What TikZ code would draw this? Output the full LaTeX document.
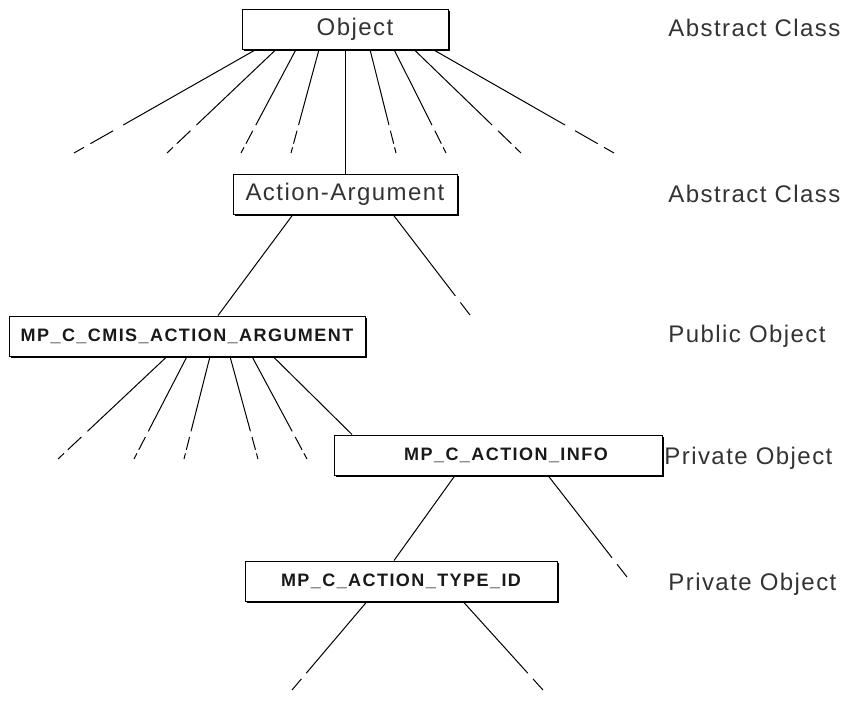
\documentclass[tikz,border=0pt]{standalone}
\usepackage{fontspec}
\newfontfamily\lblfont[LetterSpace=6]{Liberation Sans}
\newfontfamily\idfont[LetterSpace=8]{Liberation Sans}
\usetikzlibrary{calc, shadows}

\begin{document}
\begin{tikzpicture}[x=0.5pt, y=-0.5pt]
  \newcommand\boxheight{20pt}
  \newcommand\fanbottom{153}
  \newcommand\subfanbottom{459}
  \newcommand\kindcol{668}

  \tikzset{link/.style={line width=0.5pt}}
  \tikzset{classbox/.style={draw, line width=0.5pt, fill=white, minimum height=\boxheight, inner sep=0pt, drop shadow={shadow xshift=1.1pt, shadow yshift=-1.1pt, opacity=1, fill=black}}}
  \tikzset{namelbl/.style={font=\lblfont\fontsize{12}{14}\selectfont, text=black!80}}
  \tikzset{idlbl/.style={font=\idfont\bfseries\fontsize{9}{11}\selectfont, text=black!90}}
  \tikzset{kindlbl/.style={namelbl, anchor=west, inner sep=0pt}}

  % line that breaks up twice before its end
  \newcommand\fanlink[2]{
    \draw[link] (#1) -- ($(#1)!0.73!(#2)$);
    \draw[link] ($(#1)!0.785!(#2)$) -- ($(#1)!0.91!(#2)$);
    \draw[link] ($(#1)!0.945!(#2)$) -- (#2);
  }
  % line that breaks up once
  \newcommand\openlink[2]{
    \draw[link] (#1) -- ($(#1)!0.81!(#2)$);
    \draw[link] ($(#1)!0.875!(#2)$) -- (#2);
  }

  \useasboundingbox (0,0) rectangle (858,707);

  % classes
  \node[classbox, namelbl, minimum width=103pt] (obj) at (345,29) {\hskip10pt Object};
  \node[classbox, namelbl, minimum width=112pt] (aa) at (345,194) {Action-Argument};
  \node[classbox, idlbl, minimum width=178pt] (cmis) at (187,336) {MP\_C\_CMIS\_ACTION\_ARGUMENT};
  \node[classbox, idlbl, minimum width=164pt] (info) at (498,455) {\hskip8pt MP\_C\_ACTION\_INFO};
  \node[classbox, idlbl, minimum width=156pt] (typeid) at (401,581) {MP\_C\_ACTION\_TYPE\_ID};

  % kinds
  \node[kindlbl] (objkind) at (\kindcol,28) {Abstract Class};
  \node[kindlbl] (aakind) at (\kindcol,194) {Abstract Class};
  \node[kindlbl] (cmiskind) at (\kindcol,336) {Public Object};
  \node[kindlbl] (infokind) at (\kindcol-4,458) {Private Object};
  \node[kindlbl] (typekind) at (\kindcol,584) {Private Object};

  % inheritance
  \draw[link] (obj) -- (aa);
  \draw[link] (293,0 |- aa.south) -- (218,0 |- cmis.north);
  \draw[link] (273,0 |- cmis.south) -- (352,0 |- info.north);
  \draw[link] (455,0 |- info.south) -- (394,0 |- typeid.north);

  % other subclasses
  \foreach \sx/\ex [count=\i] in {256/74, 276/167, 296/241, 319/291, 370/396, 394/446, 414/521, 433/614}{
    \coordinate (objfan-\i) at (\sx,0 |- obj.south);
    \coordinate (objend-\i) at (\ex,\fanbottom);
    \fanlink{objfan-\i}{objend-\i}
  }
  \foreach \sx/\ex [count=\i] in {167/58, 187/134, 210/184, 230/258, 252/307}{
    \coordinate (cmisfan-\i) at (\sx,0 |- cmis.south);
    \coordinate (cmisend-\i) at (\ex,\subfanbottom);
    \fanlink{cmisfan-\i}{cmisend-\i}
  }
  \foreach \from/\sx/\ex/\ey in {aa/393/470/315, info/548/627/577, typeid/367/292/690, typeid/463/543/690}{
    \coordinate (\from stub-\sx) at (\sx,0 |- \from.south);
    \coordinate (\from end-\sx) at (\ex,\ey);
    \openlink{\from stub-\sx}{\from end-\sx}
  }
\end{tikzpicture}
\end{document}
